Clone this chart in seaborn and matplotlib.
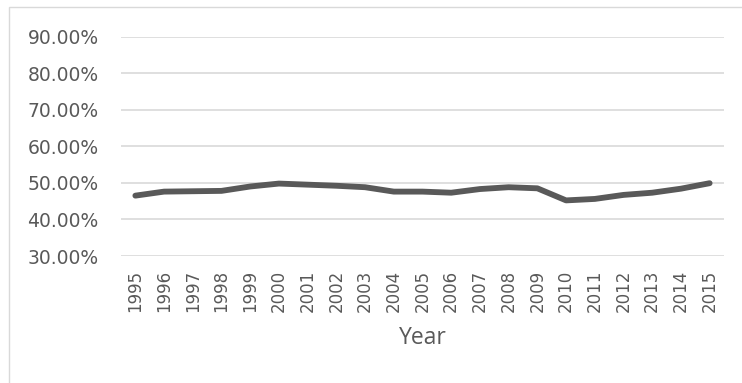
import matplotlib
matplotlib.use("Agg")
import matplotlib.pyplot as plt
import matplotlib.patches as mpatches
from matplotlib.ticker import FuncFormatter, MultipleLocator
import seaborn as sns
import pandas as pd

years = [str(y) for y in range(1995, 2016)]
share = [46.5, 47.6, 47.7, 47.8, 49.0, 49.8, 49.5, 49.2, 48.8, 47.6, 47.6, 47.3,
         48.3, 48.8, 48.5, 45.2, 45.6, 46.7, 47.3, 48.4, 49.9]

df = pd.DataFrame({"Year": years, "Share": share})

sns.set_theme(style="white")
plt.rcParams["font.family"] = ["DejaVu Sans"]

fig = plt.figure(figsize=(7.42, 3.83), dpi=100)
ax = fig.add_axes([121 / 742, 1 - 256 / 383, (724 - 121) / 742, (256 - 36.5) / 383])

# outer chart frame
frame = mpatches.Rectangle((9 / 742, -0.1), 1.2, 1 - 7 / 383 + 0.1,
                           transform=fig.transFigure, fill=False,
                           edgecolor="#d9d9d9", linewidth=1.0, zorder=0)
fig.patches.append(frame)

sns.lineplot(data=df, x="Year", y="Share", ax=ax, color="#595959",
             linewidth=4.2, sort=False, solid_capstyle="round")

ax.set_xlim(-0.5, len(years) - 0.5)
ax.set_ylim(30, 90)
ax.yaxis.set_major_locator(MultipleLocator(10))
ax.yaxis.set_major_formatter(FuncFormatter(lambda v, p: f"{v:.2f}%"))
ax.grid(axis="y", color="#d9d9d9", linewidth=1.2)
ax.set_axisbelow(True)
for s in ax.spines.values():
    s.set_visible(False)

ax.tick_params(axis="y", length=0, pad=16, labelsize=13.5, labelcolor="#595959")
ax.tick_params(axis="x", length=0, pad=10, labelsize=12, labelcolor="#595959",
               labelrotation=90)
ax.set_ylabel("")
ax.set_xlabel("Year", fontsize=16.5, color="#595959", labelpad=10,
              family=["Open Sans", "DejaVu Sans"])

fig.savefig("out.png", dpi=100)
